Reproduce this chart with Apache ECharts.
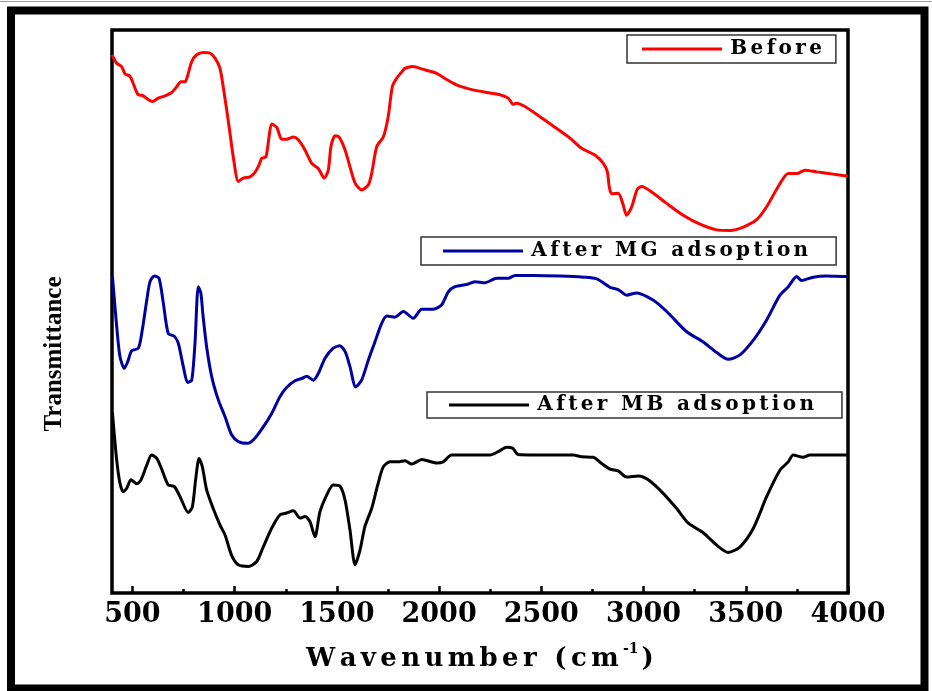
<!DOCTYPE html>
<html>
<head>
<meta charset="utf-8">
<script src="https://cdn.jsdelivr.net/npm/echarts@6/dist/echarts.min.js"></script>
<style>
  html, body { margin: 0; padding: 0; background: #fff; }
  #chart { width: 932px; height: 691px; }
</style>
</head>
<body>
<div id="chart"></div>
<script>
// FTIR spectra: transmittance (arbitrary units) against wavenumber (cm^-1)

const seriesNames = ['Before', 'After MG adsoption', 'After MB adsoption'];

const majorTicks = [500, 1000, 1500, 2000, 2500, 3000, 3500, 4000];
const minorTicks = [750, 1250, 1750, 2250, 2750, 3250, 3750];

const beforeWn = [401,423,447,464,488,504,526,553,578,599,626,659,692,716,737,757,773,790,814,847,879,904,928,944,961,977,993,1018,1042,1075,1099,1119,1132,1153,1168,1181,1206,1230,1254,1287,1311,1344,1377,1409,1438,1458,1471,1491,1510,1540,1564,1589,1621,1654,1670,1695,1727,1751,1771,1792,1825,1833,1871,1923,1988,2037,2094,2151,2233,2298,2338,2363,2379,2420,2493,2575,2640,2697,2762,2803,2823,2832,2844,2876,2898,2917,2942,2969,2991,3048,3113,3194,3276,3358,3423,3488,3553,3602,3659,3708,3749,3790,3847,3928,3985,4000];
const beforeT = [95.6,94.1,93.5,92.2,91.8,90.5,88.6,88.3,87.6,87.3,87.9,88.3,88.9,89.9,90.8,90.8,92.3,94.4,95.6,96.0,95.9,95.0,93.2,89.9,85.8,81.7,77.5,73.1,73.7,73.9,74.7,76.0,77.2,77.5,81.0,83.3,82.7,80.6,80.6,81.0,80.5,78.7,76.3,75.4,73.7,75.1,79.3,81.2,81.0,78.7,75.7,72.8,71.6,72.5,74.5,79.3,81.0,84.6,89.9,91.4,92.9,93.2,93.5,93.0,92.3,91.2,90.1,89.5,88.9,88.5,87.9,86.8,87.0,86.4,84.6,82.5,80.8,79.0,77.8,76.3,74.8,72.2,70.9,71.0,69.2,67.1,68.6,71.7,72.2,71.0,69.2,67.1,65.5,64.5,64.4,65.0,66.3,68.6,72.2,74.5,74.5,75.1,74.8,74.4,74.1,74.0];

const mgWn = [402,423,439,460,477,496,529,548,570,586,607,630,651,675,705,724,749,770,790,806,822,835,844,863,888,920,953,985,1018,1064,1099,1140,1181,1222,1254,1295,1328,1352,1385,1409,1442,1482,1515,1540,1564,1592,1621,1654,1686,1719,1744,1784,1825,1874,1915,1972,2013,2045,2078,2135,2175,2224,2282,2338,2371,2461,2591,2705,2771,2836,2876,2917,2966,3048,3113,3211,3292,3358,3414,3472,3537,3602,3667,3708,3749,3773,3830,3896,3985,4000];
const mgT = [56.3,47.3,42.0,39.9,41.1,43.0,43.5,46.7,52.0,55.3,56.3,55.9,51.5,46.1,45.6,44.4,40.2,37.4,37.8,44.4,54.4,53.2,49.7,43.7,38.4,34.3,31.3,28.1,26.9,26.6,27.5,29.5,31.9,34.9,36.5,37.7,38.1,38.5,37.8,39.0,41.7,43.5,43.9,42.9,40.2,36.6,37.8,41.4,44.6,47.9,49.2,49.0,50.0,48.8,50.4,50.4,51.2,53.5,54.4,54.8,55.3,55.1,55.9,55.9,56.4,56.4,56.3,56.1,55.8,54.3,53.9,52.9,53.3,52.0,50.0,46.4,44.6,42.7,41.5,42.3,44.9,48.5,52.9,54.4,56.2,55.5,56.1,56.3,56.2,56.2];

const mbWn = [402,423,439,455,472,493,521,542,570,594,619,643,675,705,733,773,793,809,826,842,863,895,928,953,985,1018,1067,1108,1140,1181,1222,1254,1287,1320,1344,1368,1393,1417,1450,1482,1515,1540,1564,1589,1613,1637,1670,1702,1727,1760,1800,1833,1866,1915,1988,2020,2061,2135,2249,2289,2330,2360,2387,2542,2656,2697,2754,2795,2836,2876,2917,2974,3023,3096,3162,3219,3292,3358,3414,3472,3537,3602,3667,3708,3732,3781,3814,3985,4000];
const mbT = [32.1,23.6,19.5,18.0,18.6,20.1,19.4,20.1,22.7,24.5,23.9,22.0,19.2,18.9,17.1,14.3,15.3,20.1,23.9,22.4,18.3,15.0,12.1,10.3,6.7,5.0,4.7,5.6,8.2,11.5,13.9,14.2,14.6,13.3,13.6,12.7,10.0,14.4,17.4,19.2,19.0,16.5,11.2,5.0,7.6,11.8,15.0,19.5,22.4,23.3,23.3,23.5,22.9,23.7,23.1,23.3,24.5,24.5,24.5,25.1,25.9,25.7,24.6,24.5,24.5,24.2,24.1,23.0,22.0,21.7,20.6,20.8,20.1,17.7,15.0,12.4,10.7,8.5,7.2,8.2,11.5,17.1,21.8,23.3,24.5,24.1,24.5,24.5,24.5];

const zip = (xs, ys) => xs.map((x, i) => [x, ys[i]]);

// widen lettering with narrow spaces between characters
const spaced = (s, sp) => Array.from(s).join(sp);
const SP6 = '\u2006';   // six-per-em space

const serif = '"Liberation Serif", "Times New Roman", serif';
const wideSerif = '"DejaVu Serif", serif';

function legendBox(name, left, top, padding) {
  return {
    data: [name],
    left: left,
    top: top,
    orient: 'horizontal',
    icon: 'rect',
    itemWidth: 80,
    itemHeight: 3,
    padding: padding,
    borderColor: '#333',
    borderWidth: 1.5,
    backgroundColor: '#fff',
    selectedMode: false,
    formatter: n => SP6 + spaced(n, SP6),
    textStyle: { fontFamily: wideSerif, fontWeight: 'bold', fontSize: 20, color: '#000' }
  };
}

const chart = echarts.init(document.getElementById('chart'), null, { renderer: 'canvas' });

const lineSeries = (name, data, color) => ({
  name: name,
  type: 'line',
  data: data,
  showSymbol: false,
  symbol: 'none',
  smooth: 0.25,
  lineStyle: { color: color, width: 3 },
  itemStyle: { color: color },
  xAxisIndex: 0,
  yAxisIndex: 0,
  z: 3
});

chart.setOption({
  animation: false,
  backgroundColor: '#fff',
  grid: {
    left: 112, right: 84, top: 30, bottom: 98,
    show: true,
    borderColor: '#000',
    borderWidth: 3.5,
    outerBoundsMode: 'none'
  },
  xAxis: [
    {
      type: 'value',
      position: 'bottom',
      min: 400,
      max: 4000,
      axisLine: { show: false },
      splitLine: { show: false },
      axisTick: {
        show: true, inside: true, length: 7, customValues: majorTicks,
        lineStyle: { color: '#000', width: 2.5 }
      },
      axisLabel: {
        show: true, customValues: majorTicks, margin: 8,
        formatter: v => String(v),
        fontFamily: wideSerif, fontWeight: 'bold', fontSize: 27, color: '#000'
      },
      name: '{t|' + spaced('Wavenumber (cm', SP6) + SP6 + '}{s|-1}{t|)}',
      nameLocation: 'middle',
      nameGap: 49,
      nameTextStyle: {
        rich: {
          t: { fontFamily: wideSerif, fontWeight: 'bold', fontSize: 26, lineHeight: 30, verticalAlign: 'bottom', color: '#000' },
          s: { fontFamily: wideSerif, fontWeight: 'bold', fontSize: 14, lineHeight: 30, verticalAlign: 'top', padding: [0, 3, 0, 0], color: '#000' }
        }
      }
    },
    {
      type: 'value',
      position: 'bottom',
      min: 400,
      max: 4000,
      axisLine: { show: false },
      splitLine: { show: false },
      axisLabel: { show: false },
      axisTick: {
        show: true, inside: true, length: 4, customValues: minorTicks,
        lineStyle: { color: '#000', width: 2.5 }
      }
    }
  ],
  yAxis: {
    type: 'value',
    min: 0,
    max: 100,
    axisLine: { show: false },
    axisTick: { show: false },
    axisLabel: { show: false },
    splitLine: { show: false }
  },
  legend: [
    legendBox(seriesNames[0], 627, 35, [4, 14, 4, 15]),
    legendBox(seriesNames[1], 421, 237, [4, 28, 4, 22]),
    legendBox(seriesNames[2], 427, 392, [3, 28, 3, 22])
  ],
  series: [
    lineSeries(seriesNames[0], zip(beforeWn, beforeT), '#ff0000'),
    lineSeries(seriesNames[1], zip(mgWn, mgT), '#0000a0'),
    lineSeries(seriesNames[2], zip(mbWn, mbT), '#000000')
  ],
  graphic: [
    {
      type: 'line', silent: true,
      shape: { x1: 0, y1: 1.5, x2: 932, y2: 1.5 },
      style: { stroke: '#9a9a9a', lineWidth: 1 }
    },
    {
      type: 'rect', silent: true,
      shape: { x: 11, y: 10.5, width: 913.5, height: 678 },
      style: { fill: 'none', stroke: '#000', lineWidth: 8 }
    },
    {
      type: 'text', silent: true,
      x: 55, y: 354, rotation: Math.PI / 2,
      style: {
        text: 'Transmittance',
        fontFamily: serif, fontWeight: 'bold', fontSize: 25,
        fill: '#000', align: 'center', verticalAlign: 'middle'
      }
    }
  ]
});
</script>
</body>
</html>
